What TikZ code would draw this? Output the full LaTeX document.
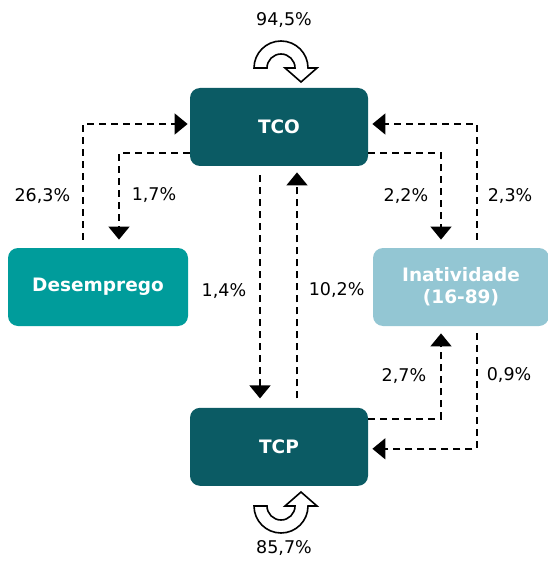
\documentclass[tikz,border=0pt]{standalone}
\usepackage{fontspec}
\setmainfont{DejaVu Sans}
\usepackage{tikz}
\usetikzlibrary{arrows.meta}
\usetikzlibrary{positioning}
\definecolor{tcoteal}{HTML}{0B5B64}
\definecolor{desteal}{HTML}{009C9B}
\definecolor{inablue}{HTML}{93C6D3}
\tikzset{
  % dashed flows between the states
  flow/.style={draw, line width=1.6pt, dash pattern=on 7pt off 5pt, -{Triangle[width=21pt,length=13pt]}},
  pct/.style={font=\fontsize{17.5}{20}\selectfont, inner sep=1pt},
  cyclearrow/.style={draw, line width=1.6pt, fill=white, line join=miter}
}

\begin{document}
\begin{tikzpicture}[x=1pt, y=-1pt, thick]
    % Define styles
    \tikzstyle{state} = [rectangle, rounded corners=10pt, text=white, font=\fontsize{18.5}{22}\selectfont\bfseries, minimum width=178pt, minimum height=78pt, align=center, inner sep=0pt]
    \useasboundingbox (0,0) rectangle (547,561);

    % Place nodes
    \node [state, fill=tcoteal] (tco) at (279,127) {TCO};
    \node [state, fill=tcoteal, below=241pt of tco] (tcp) {TCP};
    \node [state, fill=desteal, minimum width=180pt] (desemp) at (98,287) {Desemprego};
    \node [state, fill=inablue, minimum width=176pt] (inat) at (461,287) {Inatividade\\(16-89)};

    % Draw edges
    \path [flow] ([xshift=-15pt,yshift=8pt]desemp.north) |- node[pct, pos=.19, left=11pt] (p263) {26,3\%} ([xshift=-2pt,yshift=3pt]tco.west);
    \path [flow] ([yshift=-26pt]tco.west) -| node[pct, pos=.745, right=11pt] (p17) {1,7\%} ([xshift=21pt,yshift=8pt]desemp.north);
    \path [flow] ([xshift=-19pt,yshift=-9pt]tco.south) -- node[pct, pos=.52, left=12pt] (p14) {1,4\%} ([xshift=-19pt,yshift=9pt]tcp.north);
    \path [flow] ([xshift=18pt,yshift=9pt]tcp.north) -- node[pct, pos=.48, right=10pt] (p102) {10,2\%} ([xshift=18pt,yshift=-6pt]tco.south);
    \path [flow] ([yshift=-26pt]tco.east) -| node[pct, pos=.75, left=11pt] (p22) {2,2\%} ([xshift=-20pt,yshift=8pt]inat.north);
    \path [flow] ([xshift=16pt,yshift=8pt]inat.north) |- node[pct, pos=.19, right=9pt] (p23) {2,3\%} ([xshift=4pt,yshift=3pt]tco.east);
    \path [flow] ([yshift=28pt]tcp.east) -| node[pct, pos=.75, left=13pt] (p27) {2,7\%} ([xshift=-20pt,yshift=-7pt]inat.south);
    \path [flow] ([xshift=16pt,yshift=-7pt]inat.south) |- node[pct, pos=.18, right=8pt] (p09) {0,9\%} ([xshift=4pt,yshift=-2pt]tcp.east);

    % Staying in the same state
    \draw [cyclearrow] (254,68) arc[start angle=180, end angle=360, radius=27] -- (317,68) -- (301,82) -- (285,68) -- (295,68) arc[start angle=0, end angle=-180, radius=14] -- cycle;
    \node [pct] (p945) at (284,20) {94,5\%};
    \draw [cyclearrow] (254,506) arc[start angle=180, end angle=0, radius=27] -- (317,506) -- (301,492) -- (285,506) -- (295,506) arc[start angle=0, end angle=180, radius=14] -- cycle;
    \node [pct] (p857) at (284,548) {85,7\%};

\end{tikzpicture}
\end{document}
